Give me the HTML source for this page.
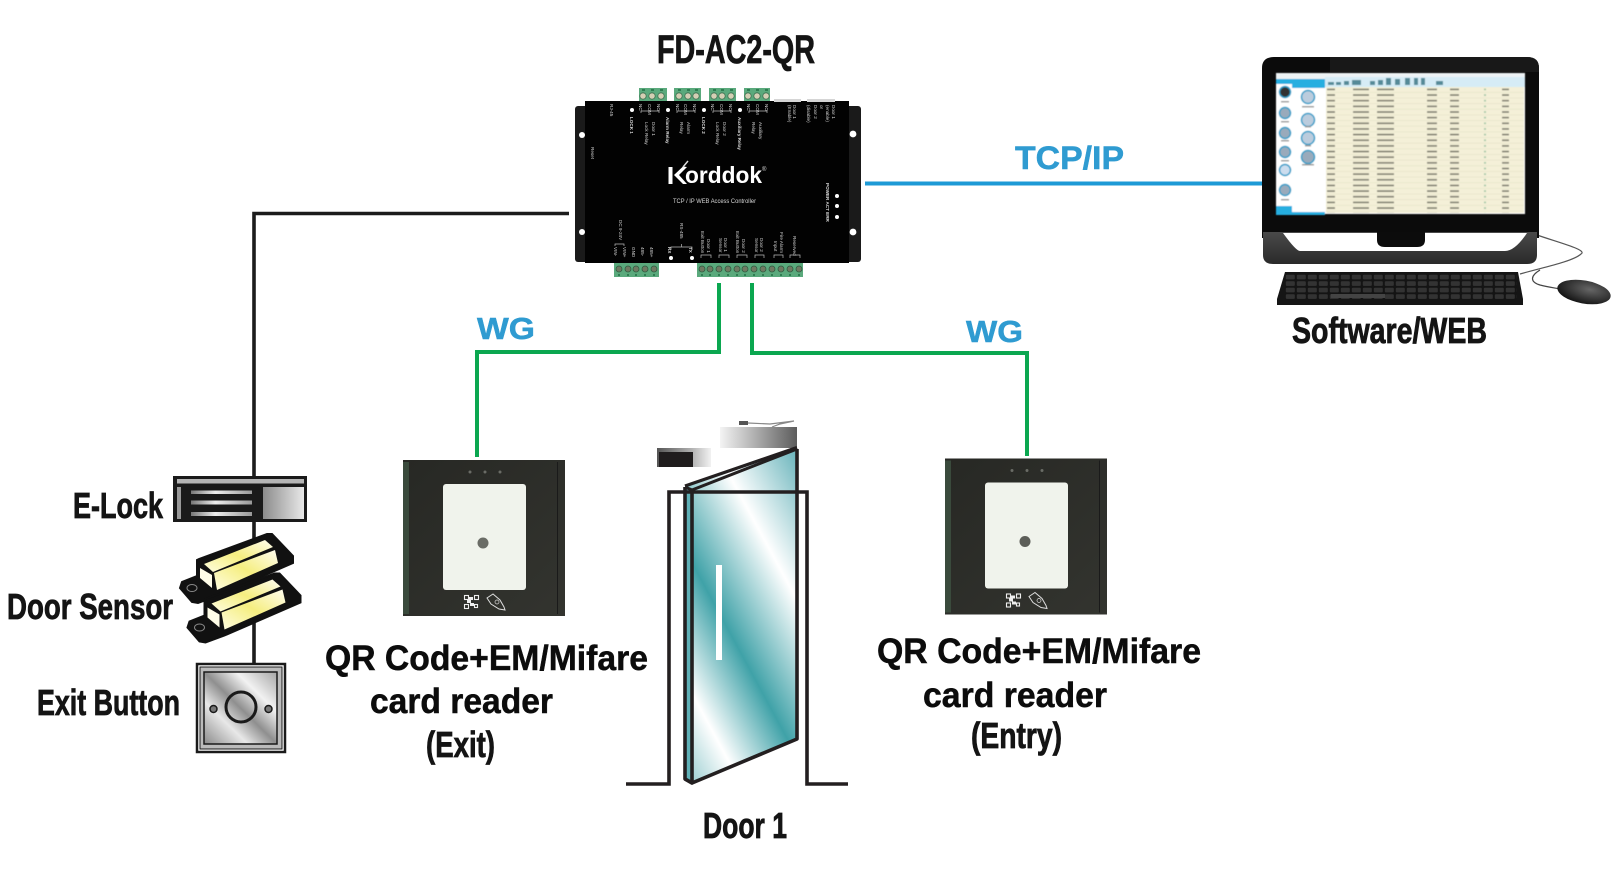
<!DOCTYPE html>
<html><head><meta charset="utf-8"><style>
html,body{margin:0;padding:0;background:#fff}
svg{display:block}
text{font-family:"Liberation Sans",Arial,sans-serif}
.l{font-weight:700;fill:#141414;font-size:36px;stroke:#141414;stroke-width:.8px}
.n{font-weight:700;fill:#0c0c0c;font-size:35px;stroke:#0c0c0c;stroke-width:.5px}
.b{font-weight:700;fill:#2f9bd1;stroke:#2f9bd1;stroke-width:.5px}
.s text{fill:#d4d4d4;font-size:4.6px}
</style></head><body>
<svg width="1624" height="869" viewBox="0 0 1624 869" xmlns="http://www.w3.org/2000/svg">
<defs>
<linearGradient id="glass" gradientUnits="userSpaceOnUse" x1="692.3" y1="782.7" x2="911" y2="664.3">
<stop offset="0" stop-color="#9fd0d3"/><stop offset=".17" stop-color="#fff"/><stop offset=".42" stop-color="#3fa2a8"/><stop offset=".72" stop-color="#fff"/><stop offset="1" stop-color="#6db6bd"/></linearGradient>
<linearGradient id="closer" x1="0" x2="1"><stop offset="0" stop-color="#f4f4f4"/><stop offset="1" stop-color="#5c5c5c"/></linearGradient>
<linearGradient id="magnet" x1="0" x2="1"><stop offset="0" stop-color="#555"/><stop offset=".6" stop-color="#aaa"/><stop offset="1" stop-color="#f2f2f2"/></linearGradient>
<linearGradient id="lockr" x1="0" x2="1"><stop offset="0" stop-color="#8c8c8c"/><stop offset="1" stop-color="#e8e8e8"/></linearGradient>
<linearGradient id="lockb" x1="0" x2="1"><stop offset="0" stop-color="#777"/><stop offset=".4" stop-color="#eee"/><stop offset="1" stop-color="#999"/></linearGradient>
<linearGradient id="steel" x1="0" y1="1" x2="1" y2="0"><stop offset="0" stop-color="#8a8a8a"/><stop offset=".3" stop-color="#e8e8e8"/><stop offset=".5" stop-color="#8f8f8f"/><stop offset=".72" stop-color="#f2f2f2"/><stop offset="1" stop-color="#a5a5a5"/></linearGradient>
<linearGradient id="yel" x1="0" y1="1" x2="1" y2="0"><stop offset="0" stop-color="#fffde0"/><stop offset=".5" stop-color="#f5ee80"/><stop offset="1" stop-color="#fffdf0"/></linearGradient>
<linearGradient id="base" x1="0" x2="0" y1="0" y2="1"><stop offset="0" stop-color="#4a4a4a"/><stop offset="1" stop-color="#2a2a2a"/></linearGradient>
<linearGradient id="rd" x1="0" x2="1" y1="0" y2="1"><stop offset="0" stop-color="#272824"/><stop offset="1" stop-color="#33342f"/></linearGradient>
<radialGradient id="mouse" cx=".6" cy=".35" r=".7"><stop offset="0" stop-color="#666"/><stop offset="1" stop-color="#111"/></radialGradient>
<filter id="soft" x="-5%" y="-5%" width="110%" height="110%"><feGaussianBlur stdDeviation=".45"/></filter>
<pattern id="rows" patternUnits="userSpaceOnUse" x="1326" y="87" width="200" height="5.65">
<rect width="200" height="5.65" fill="#f4f0d8"/><rect y="5.1" width="200" height=".5" fill="#e2dfc4"/>
<g fill="#7b7a6c"><rect x="1" y="1.6" width="8" height="1.6"/><rect x="27" y="1.6" width="16" height="1.6"/><rect x="51" y="1.6" width="17" height="1.6"/><rect x="101" y="1.6" width="10" height="1.6"/><rect x="124" y="1.6" width="9" height="1.6"/><rect x="176" y="1.6" width="7" height="1.6"/></g>
<rect x="158" y="1.6" width="2" height="1.6" fill="#9fc5a5"/>
</pattern>
<pattern id="keys" patternUnits="userSpaceOnUse" x="1285" y="274" width="11" height="6.5">
<rect width="11" height="6.5" fill="#141414"/><rect x=".8" y=".8" width="9" height="4.6" rx="1" fill="#333"/></pattern>
</defs>

<!-- connectors -->
<path d="M569 213.5H254V663" fill="none" stroke="#1c1c1c" stroke-width="3.6"/>
<path d="M865 183.5H1262" fill="none" stroke="#1d9ad6" stroke-width="4"/>
<path d="M719 283V352H477V457" fill="none" stroke="#0ba750" stroke-width="4"/>
<path d="M752 283V353H1027V456" fill="none" stroke="#0ba750" stroke-width="4"/>

<!-- controller -->
<g>
<rect x="575" y="106" width="286" height="156" rx="3" fill="#1a1a1a"/>
<rect x="585" y="101" width="264" height="162" fill="#020202"/>
<rect x="774" y="99" width="27" height="3" fill="#d5d5d5"/><rect x="807" y="99" width="28" height="3" fill="#d5d5d5"/>
<g fill="#fff"><circle cx="582" cy="135" r="3"/><circle cx="853" cy="134" r="3.4"/><circle cx="582" cy="232" r="3"/><circle cx="853" cy="232" r="3.4"/></g>
<g fill="#5aa97c">
<rect x="639" y="88" width="28" height="13"/><rect x="674" y="88" width="27" height="13"/><rect x="709" y="88" width="27" height="13"/><rect x="744" y="88" width="26" height="13"/>
<rect x="614" y="263" width="45" height="14"/><rect x="697" y="263" width="106" height="14"/>
</g>
<g fill="#2f7d52">
<rect x="642" y="89" width="3" height="2"/><rect x="651" y="89" width="3" height="2"/><rect x="660" y="89" width="3" height="2"/>
<rect x="678" y="89" width="3" height="2"/><rect x="687" y="89" width="3" height="2"/><rect x="695" y="89" width="3" height="2"/>
<rect x="713" y="89" width="3" height="2"/><rect x="721" y="89" width="3" height="2"/><rect x="730" y="89" width="3" height="2"/>
<rect x="747" y="89" width="3" height="2"/><rect x="756" y="89" width="3" height="2"/><rect x="765" y="89" width="3" height="2"/>
<rect x="618" y="274" width="2" height="2"/><rect x="627" y="274" width="2" height="2"/><rect x="635" y="274" width="2" height="2"/><rect x="644" y="274" width="2" height="2"/><rect x="653" y="274" width="2" height="2"/>
<rect x="701" y="274" width="2" height="2"/><rect x="709" y="274" width="2" height="2"/><rect x="718" y="274" width="2" height="2"/><rect x="727" y="274" width="2" height="2"/><rect x="736" y="274" width="2" height="2"/><rect x="744" y="274" width="2" height="2"/><rect x="753" y="274" width="2" height="2"/><rect x="762" y="274" width="2" height="2"/><rect x="771" y="274" width="2" height="2"/><rect x="780" y="274" width="2" height="2"/><rect x="789" y="274" width="2" height="2"/><rect x="798" y="274" width="2" height="2"/>
</g>
<g fill="#d4cfb4" stroke="#3e6e50" stroke-width=".8">
<circle cx="643" cy="96" r="3.2"/><circle cx="652" cy="96" r="3.2"/><circle cx="661" cy="96" r="3.2"/>
<circle cx="679" cy="96" r="3.2"/><circle cx="688" cy="96" r="3.2"/><circle cx="696" cy="96" r="3.2"/>
<circle cx="714" cy="96" r="3.2"/><circle cx="722" cy="96" r="3.2"/><circle cx="731" cy="96" r="3.2"/>
<circle cx="748" cy="96" r="3.2"/><circle cx="757" cy="96" r="3.2"/><circle cx="766" cy="96" r="3.2"/>
</g>
<g fill="#6f7a62" stroke="#2d5c40" stroke-width=".8">
<circle cx="619" cy="269" r="3"/><circle cx="628" cy="269" r="3"/><circle cx="636" cy="269" r="3"/><circle cx="645" cy="269" r="3"/><circle cx="654" cy="269" r="3"/>
<circle cx="702" cy="269" r="3"/><circle cx="710" cy="269" r="3"/><circle cx="719" cy="269" r="3"/><circle cx="728" cy="269" r="3"/><circle cx="737" cy="269" r="3"/><circle cx="745" cy="269" r="3"/><circle cx="754" cy="269" r="3"/><circle cx="763" cy="269" r="3"/><circle cx="772" cy="269" r="3"/><circle cx="781" cy="269" r="3"/><circle cx="790" cy="269" r="3"/><circle cx="799" cy="269" r="3"/>
</g>
<g fill="#fff">
<circle cx="632" cy="110" r="2"/><circle cx="668" cy="110" r="2"/><circle cx="704" cy="110" r="2"/><circle cx="740" cy="110" r="2"/>
<circle cx="671" cy="258" r="2"/><circle cx="692" cy="258" r="2"/>
<circle cx="837" cy="196" r="2"/><circle cx="837" cy="206" r="2"/><circle cx="837" cy="217" r="2"/>
</g>
<g fill="none" stroke="#bbb" stroke-width=".7">
<path d="M641 113v-2h18v2M677 113v-2h18v2M713 113v-2h18v2M749 113v-2h18v2"/>
<path d="M615 246v-2h9v2M671 250v-3h21v3M681.500 247v-3"/>
<path d="M701 258v-3h10v3M719 258v-3h10v3M737 258v-3h10v3M755 258v-3h9v3M774 258v-3h9v3M790 258v-3h10v3"/>
</g>
<g class="s">
<text transform="translate(610,104) rotate(90)">RJ-45</text>
<text transform="translate(630,117) rotate(90)" font-weight="700">LOCK 1</text>
<text transform="translate(639,104) rotate(90)">NC</text><text transform="translate(648,104) rotate(90)">COM</text><text transform="translate(657,104) rotate(90)">NO</text>
<text transform="translate(645,122) rotate(90)">Lock Relay</text><text transform="translate(652,122) rotate(90)">Door 1</text>
<text transform="translate(666,117) rotate(90)" font-weight="700">Alarm Relay</text>
<text transform="translate(676,104) rotate(90)">NC</text><text transform="translate(684,104) rotate(90)">COM</text><text transform="translate(693,104) rotate(90)">NO</text>
<text transform="translate(680,122) rotate(90)">Relay</text><text transform="translate(687,122) rotate(90)">Alarm</text>
<text transform="translate(702,117) rotate(90)" font-weight="700">LOCK 2</text>
<text transform="translate(711,104) rotate(90)">NC</text><text transform="translate(720,104) rotate(90)">COM</text><text transform="translate(729,104) rotate(90)">NO</text>
<text transform="translate(716,122) rotate(90)">Lock Relay</text><text transform="translate(723,122) rotate(90)">Door 2</text>
<text transform="translate(738,117) rotate(90)" font-weight="700">Auxiliary Relay</text>
<text transform="translate(747,104) rotate(90)">NC</text><text transform="translate(756,104) rotate(90)">COM</text><text transform="translate(765,104) rotate(90)">NO</text>
<text transform="translate(752,122) rotate(90)">Relay</text><text transform="translate(759,122) rotate(90)">Auxiliary</text>
<text transform="translate(788,105) rotate(90)">(Enable)</text><text transform="translate(788,105) rotate(90)" dy="-5">Door 1</text>
<text transform="translate(807,105) rotate(90)">(disable)</text><text transform="translate(814,105) rotate(90)">Door 2</text><text transform="translate(820,105) rotate(90)">or</text><text transform="translate(826,105) rotate(90)">(enable)</text><text transform="translate(832,105) rotate(90)">Door 1</text>
<text transform="translate(591,147) rotate(90)">Reset</text>
<text transform="translate(619,220) rotate(90)">DC 9-24V</text>
<text transform="translate(614,247) rotate(90)">VIN-</text><text transform="translate(623,247) rotate(90)">VIN+</text><text transform="translate(632,247) rotate(90)">GND</text><text transform="translate(641,247) rotate(90)">485-</text><text transform="translate(650,247) rotate(90)">485+</text>
<text transform="translate(680,223) rotate(90)">RS-485</text>
<text transform="translate(668,247) rotate(90)" font-weight="700">RX</text><text transform="translate(689,247) rotate(90)" font-weight="700">TX</text>
<text transform="translate(701,231) rotate(90)">Exit Button</text><text transform="translate(707,239) rotate(90)">Door 1</text>
<text transform="translate(719,238) rotate(90)">Sensor</text><text transform="translate(724,238) rotate(90)">Door 1</text>
<text transform="translate(736,231) rotate(90)">Exit Button</text><text transform="translate(742,239) rotate(90)">Door 2</text>
<text transform="translate(755,238) rotate(90)">Sensor</text><text transform="translate(760,238) rotate(90)">Door 2</text>
<text transform="translate(774,241) rotate(90)">Input</text><text transform="translate(780,232) rotate(90)">Fire Alarm</text>
<text transform="translate(793,236) rotate(90)">Reserved</text>
<text transform="translate(826,183) rotate(90)" font-weight="700" font-size="5">POWER ACT ERR</text>
</g>
<!-- logo -->
<g fill="#fff">
<rect x="668.500" y="167" width="4" height="17"/>
<path d="M674 175 683 166.500 687 167 679 175 687 184 683 184Z"/>
<path d="M683 167 688 161" stroke="#ddd" stroke-width="1.500" fill="none"/>
<text x="685" y="183" font-size="23" font-weight="700" textLength="77" lengthAdjust="spacingAndGlyphs" fill="#fff">orddok</text>
<text x="762" y="171" font-size="6" fill="#ddd">®</text>
<text x="673" y="203" font-size="6.500" fill="#d8d8d8" textLength="83" lengthAdjust="spacingAndGlyphs">TCP / IP WEB Access Controller</text>
</g>
</g>

<!-- computer -->
<path d="M1537 235C1560 243 1588 250 1581 254C1572 262 1540 268 1520 274" fill="none" stroke="#555" stroke-width="1.200"/>
<path d="M1540 270C1530 276 1530 282 1540 285C1548 287 1555 288 1560 289" fill="none" stroke="#444" stroke-width="1.200"/>
<path d="M1262 68Q1262 57 1274 57H1527Q1539 57 1539 68V238H1262Z" fill="#0b0b0b"/>
<path d="M1330 57H1527Q1539 57 1539 68V72H1330Z" fill="#1e1e1e" opacity=".7"/>
<path d="M1263 232H1537V255Q1537 264 1527 264H1273Q1263 264 1263 255Z" fill="url(#base)"/>
<path d="M1283 233Q1296 251 1300 251H1505Q1515 251 1527 233Z" fill="#fff"/>
<path d="M1377 232H1425V240Q1425 247 1417 247H1385Q1377 247 1377 240Z" fill="#0c0c0c"/>
<g filter="url(#soft)">
<rect x="1276" y="73" width="249" height="141" fill="#fff"/>
<rect x="1276" y="73" width="249" height="6" fill="#eef3f5"/>
<rect x="1276" y="79" width="49" height="5" fill="#28aee0"/>
<rect x="1292" y="84" width="33" height="4" fill="#28aee0"/>
<rect x="1325" y="77" width="200" height="10" fill="#d6ecf6"/>
<rect x="1326" y="87" width="198" height="126" fill="url(#rows)"/>
<rect x="1276" y="212" width="49" height="3" fill="#28aee0"/><rect x="1276" y="206" width="16" height="6" fill="#28aee0"/>
<g fill="#6a8ea2" stroke="#2a9ec9" stroke-width="1.500">
<circle cx="1285" cy="92" r="5.500" fill="#333"/><circle cx="1285" cy="113" r="5.500" fill="#9ab"/><circle cx="1285" cy="133" r="5.500" fill="#9ab"/><circle cx="1285" cy="152" r="5.500" fill="#9ab"/><circle cx="1285" cy="170" r="5.500" fill="#cde"/><circle cx="1285" cy="190" r="5.500" fill="#9ab"/>
<circle cx="1308" cy="97" r="6.500" fill="#bcd"/><circle cx="1308" cy="120" r="6.500" fill="#bcd"/><circle cx="1308" cy="138" r="6.500" fill="#bcd"/><circle cx="1308" cy="157" r="6.500" fill="#9ab"/>
</g>
<g fill="#999"><rect x="1281" y="101" width="8" height="1.500"/><rect x="1281" y="121" width="8" height="1.500"/><rect x="1281" y="140" width="8" height="1.500"/><rect x="1281" y="160" width="8" height="1.500"/><rect x="1281" y="199" width="8" height="1.500"/><rect x="1302" y="106" width="12" height="1.500"/><rect x="1305" y="126" width="6" height="1.500"/><rect x="1305" y="145" width="6" height="1.500"/><rect x="1302" y="164" width="12" height="1.500"/></g>
<g fill="#558a98"><rect x="1328" y="82" width="6" height="3"/><rect x="1336" y="82" width="5" height="3"/><rect x="1344" y="81" width="5" height="4"/><rect x="1352" y="80" width="9" height="5"/><rect x="1370" y="81" width="5" height="4"/><rect x="1378" y="80" width="5" height="5"/><rect x="1386" y="78" width="5" height="7"/><rect x="1395" y="79" width="5" height="6"/><rect x="1405" y="78" width="5" height="7"/><rect x="1414" y="78" width="4" height="7"/><rect x="1421" y="78" width="4" height="7"/><rect x="1436" y="81" width="7" height="4"/></g>
</g>
<path d="M1285 272H1518L1523 299V305H1277V299Z" fill="#151515"/>
<rect x="1285" y="274" width="232" height="26" fill="url(#keys)"/>
<path d="M1331 296H1385" stroke="#444" stroke-width="4"/>
<ellipse cx="1584" cy="292" rx="27" ry="11.500" transform="rotate(10 1584 292)" fill="url(#mouse)"/>
<text x="1292" y="343" class="l" textLength="195" lengthAdjust="spacingAndGlyphs">Software/WEB</text>

<!-- labels -->
<text x="657" y="63" class="l" style="font-size:40px" textLength="158" lengthAdjust="spacingAndGlyphs">FD-AC2-QR</text>
<text x="1015" y="169" class="b" font-size="32" textLength="109" lengthAdjust="spacingAndGlyphs">TCP/IP</text>
<text x="477" y="339" class="b" font-size="31" textLength="58" lengthAdjust="spacingAndGlyphs">WG</text>
<text x="966" y="342" class="b" font-size="31" textLength="57" lengthAdjust="spacingAndGlyphs">WG</text>
<text x="73" y="518" class="l" textLength="90" lengthAdjust="spacingAndGlyphs">E-Lock</text>
<text x="7" y="619" class="l" textLength="166" lengthAdjust="spacingAndGlyphs">Door Sensor</text>
<text x="37" y="715" class="l" textLength="143" lengthAdjust="spacingAndGlyphs">Exit Button</text>
<text x="703" y="838" class="l" textLength="84" lengthAdjust="spacingAndGlyphs">Door 1</text>
<text x="325" y="670" class="n" textLength="323" lengthAdjust="spacingAndGlyphs">QR Code+EM/Mifare</text>
<text x="370" y="713" class="n" textLength="183" lengthAdjust="spacingAndGlyphs">card reader</text>
<text x="426" y="757" class="l" textLength="69" lengthAdjust="spacingAndGlyphs">(Exit)</text>
<text x="877" y="663" class="n" textLength="324" lengthAdjust="spacingAndGlyphs">QR Code+EM/Mifare</text>
<text x="923" y="707" class="n" textLength="184" lengthAdjust="spacingAndGlyphs">card reader</text>
<text x="971" y="748" class="l" textLength="91" lengthAdjust="spacingAndGlyphs">(Entry)</text>

<!-- e-lock -->
<rect x="173" y="476" width="134" height="46" fill="#1a1a1a"/>
<rect x="177" y="479" width="127" height="4.500" fill="#b5b5b5"/>
<rect x="263" y="487" width="41" height="32" fill="url(#lockr)"/>
<rect x="177" y="487" width="4" height="32" fill="#999"/>
<rect x="191" y="490.500" width="61" height="3.500" fill="url(#lockb)"/>
<rect x="191" y="500.500" width="61" height="4" fill="url(#lockb)"/>
<rect x="191" y="512" width="61" height="4" fill="url(#lockb)"/>

<!-- door sensors -->
<g>
<path d="M197 560 199 559 267 534 272 534 293 556 293 563 217 596 198 603 192 602 180 588 182 582 197 576Z" fill="#111" stroke="#111" stroke-width="2"/>
<path d="M204 564 265 540 273 547 213 572Z" fill="url(#yel)"/>
<path d="M214 573 275 550 278 563 217 590Z" fill="url(#yel)"/>
<path d="M200 568 212 575 212 588 200 578Z" fill="#fffde8"/>
<ellipse cx="192" cy="588" rx="5" ry="3.500" fill="none" stroke="#888" stroke-width="1"/>
</g>
<g transform="translate(7.500,39.500)">
<path d="M197 560 199 559 267 534 272 534 293 556 293 563 217 596 198 603 192 602 180 588 182 582 197 576Z" fill="#111" stroke="#111" stroke-width="2"/>
<path d="M204 564 265 540 273 547 213 572Z" fill="url(#yel)"/>
<path d="M214 573 275 550 278 563 217 590Z" fill="url(#yel)"/>
<path d="M200 568 212 575 212 588 200 578Z" fill="#fffde8"/>
<ellipse cx="192" cy="588" rx="5" ry="3.500" fill="none" stroke="#888" stroke-width="1"/>
</g>

<!-- exit button -->
<rect x="197" y="664" width="88" height="88" fill="#fff" stroke="#1a1a1a" stroke-width="2.500"/>
<rect x="200" y="667" width="82" height="82" fill="#bbb" stroke="#1a1a1a" stroke-width="1"/>
<rect x="204" y="672" width="73" height="72" fill="url(#steel)" stroke="#1a1a1a" stroke-width="1.500"/>
<circle cx="241" cy="707" r="15" fill="none" stroke="#1a1a1a" stroke-width="3"/>
<circle cx="213.500" cy="709" r="3.500" fill="#777" stroke="#1a1a1a" stroke-width="1.500"/>
<circle cx="268.500" cy="709" r="3.500" fill="#777" stroke="#1a1a1a" stroke-width="1.500"/>

<!-- reader exit -->
<g>
<rect x="403" y="460" width="162" height="156" fill="url(#rd)"/>
<rect x="403" y="462" width="6" height="152" fill="#3a4a3c"/>
<rect x="557" y="462" width="1" height="152" fill="#1a1a1a"/>
<rect x="443" y="484" width="83" height="106" rx="3" fill="#f0f3ec"/>
<circle cx="483" cy="543" r="5.500" fill="#6a6c66"/>
<g fill="#6a6c66"><circle cx="470" cy="472" r="1.500"/><circle cx="485" cy="472" r="1.500"/><circle cx="500" cy="472" r="1.500"/></g>
<g fill="none" stroke="#eee" stroke-width="1.100"><rect x="464.500" y="595.500" width="4" height="4"/><rect x="474.500" y="595.500" width="4" height="4"/><rect x="464.500" y="604.500" width="4" height="4"/><rect x="474.500" y="604.500" width="3" height="3"/></g>
<path d="M469 597h4v3h-2v3h3v3h-4v-3h-3v-3h2z" fill="#eee"/>
<path d="M487 598 493 594 500 600 504 607 505 610 499 609 491 604Z" fill="none" stroke="#ddd" stroke-width="1"/>
<circle cx="497" cy="602" r="2" fill="none" stroke="#ddd" stroke-width=".7"/>
</g>
<!-- reader entry -->
<g transform="translate(542,-1.500)">
<rect x="403" y="460" width="162" height="156" fill="url(#rd)"/>
<rect x="403" y="462" width="6" height="152" fill="#3a4a3c"/>
<rect x="557" y="462" width="1" height="152" fill="#1a1a1a"/>
<rect x="443" y="484" width="83" height="106" rx="3" fill="#f0f3ec"/>
<circle cx="483" cy="543" r="5.500" fill="#5c5e58"/>
<g fill="#6a6c66"><circle cx="470" cy="472" r="1.500"/><circle cx="485" cy="472" r="1.500"/><circle cx="500" cy="472" r="1.500"/></g>
<g fill="none" stroke="#eee" stroke-width="1.100"><rect x="464.500" y="595.500" width="4" height="4"/><rect x="474.500" y="595.500" width="4" height="4"/><rect x="464.500" y="604.500" width="4" height="4"/><rect x="474.500" y="604.500" width="3" height="3"/></g>
<path d="M469 597h4v3h-2v3h3v3h-4v-3h-3v-3h2z" fill="#eee"/>
<path d="M487 598 493 594 500 600 504 607 505 610 499 609 491 604Z" fill="none" stroke="#ddd" stroke-width="1"/>
<circle cx="497" cy="602" r="2" fill="none" stroke="#ddd" stroke-width=".7"/>
</g>

<!-- door -->
<path d="M720 427H797V448H720Z" fill="url(#closer)"/>
<path d="M740 423H748L770 424 794 421 780 424 772 427" fill="none" stroke="#888" stroke-width="1.200"/>
<rect x="739" y="421" width="9" height="4" fill="#555"/>
<rect x="657" y="448" width="54" height="19" fill="url(#magnet)"/>
<rect x="659" y="452" width="34" height="15" fill="#1f1c1d"/>
<path d="M685 487 797 449V739L692 783 685 779Z" fill="url(#glass)"/>
<path d="M685 487 692 490V783L685 779Z" fill="#5fb0b6"/>
<path d="M685 487 692 490 797 449" fill="none" stroke="#231f20" stroke-width="3"/>
<path d="M685 486 797 447.500" fill="none" stroke="#231f20" stroke-width="3.200"/>
<path d="M685 487V779L692 783V490M692 783 797 739V449" fill="none" stroke="#231f20" stroke-width="3.600" stroke-linejoin="round"/>
<path d="M626 784H669V492H807V784H848" fill="none" stroke="#231f20" stroke-width="3.600"/>
<rect x="716" y="565" width="6" height="95" fill="#fff"/>
</svg>
</body></html>
